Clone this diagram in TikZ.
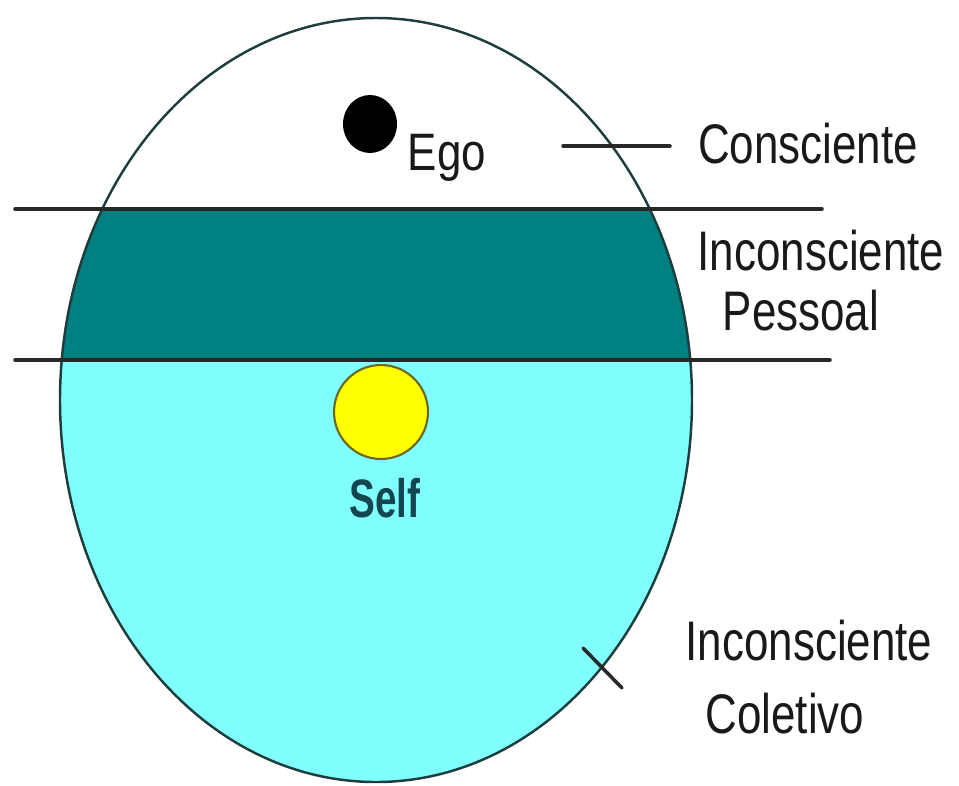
\documentclass[tikz,border=0pt]{standalone}
\usepackage{fontspec}
\setmainfont{Liberation Sans}
\usepackage{tikz}
\usetikzlibrary{positioning, calc, shapes.geometric}
\definecolor{PsyTeal}{RGB}{0, 128, 128}
\definecolor{PsyCyan}{RGB}{128, 255, 255}
\definecolor{PsyYellow}{RGB}{255, 255, 0}
\definecolor{PsyLine}{RGB}{40, 40, 40}
\definecolor{PsySelf}{RGB}{20, 70, 80}
\tikzset{
    layerline/.style={PsyLine, line width=2pt},
    leader/.style={PsyLine, line width=2pt},
    levellabel/.style={anchor=base, inner sep=0pt, text=black!90, font=\fontsize{25}{30}\selectfont}
}
\newcommand{\tallbox}[2][1.27]{\scalebox{1}[#1]{#2}}

\begin{document}
\begin{tikzpicture}[x=0.02cm, y=-0.02cm, line cap=round, line join=round]
    \useasboundingbox (0,0) rectangle (959,785);
    % layers of the psyche
    \fill [white] (376,400) ellipse (316 and 382);
    \begin{scope}
        \clip (376,400) ellipse (316 and 382);
        \fill [PsyTeal] (40,209) rectangle (720,360);
        \fill [PsyCyan] (40,360) rectangle (720,790);
    \end{scope}
    \draw [PsyLine!75!PsyTeal, line width=1.4pt] (376,400) ellipse (316 and 382);

    \coordinate (upper-a) at (15,209);
    \coordinate (upper-b) at (822,209);
    \coordinate (lower-a) at (15,360);
    \coordinate (lower-b) at (830,360);
    \draw [layerline] (upper-a) -- (upper-b);
    \draw [layerline] (lower-a) -- (lower-b);

    % ego and self
    \node [
        ellipse,
        fill=black,
        minimum width=1.08cm,
        minimum height=1.16cm,
        inner sep=0pt
    ] (egodot) at (370,124) {};
    \node [levellabel] (ego) at (447,170) {\tallbox[1.2]{Ego}};
    \node [
        circle,
        draw=olive!70!black,
        fill=PsyYellow,
        line width=1.2pt,
        minimum size=1.88cm,
        inner sep=0pt
    ] (selfdot) at (381,412) {};
    \node [
        anchor=base,
        inner sep=0pt,
        text=PsySelf,
        font=\fontsize{22}{26}\selectfont\bfseries
    ] (self) at (385,517) {\tallbox[1.4]{Self}};

    % labels on the right
    \node [levellabel] (consciente) at (808,163) {\tallbox{Consciente}};
    \node [levellabel] (pessoal-1) at (821,270) {\tallbox{Inconsciente}};
    \node [levellabel] (pessoal-2) at (801,330) {\tallbox{Pessoal}};
    \node [levellabel] (coletivo-1) at (809,660) {\tallbox{Inconsciente}};
    \node [levellabel] (coletivo-2) at (785,733) {\tallbox{Coletivo}};

    \coordinate (cons-a) at (563,146);
    \coordinate (cons-b) at (670,146);
    \draw [leader] (cons-a) -- (cons-b);
    \coordinate (col-a) at (583,648);
    \coordinate (col-b) at (622,688);
    \draw [leader] (col-a) -- (col-b);
\end{tikzpicture}
\end{document}
